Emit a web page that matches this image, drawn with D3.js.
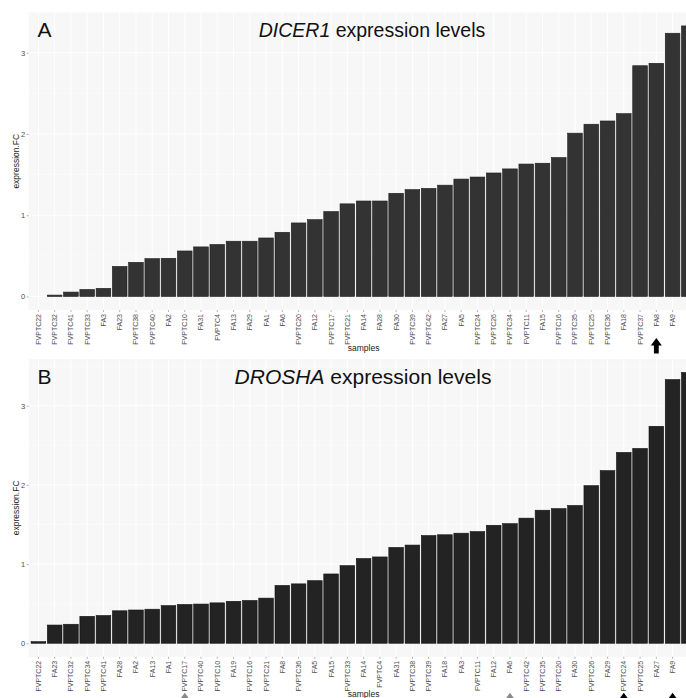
<!DOCTYPE html>
<html>
<head>
<meta charset="utf-8">
<script src="https://cdn.jsdelivr.net/npm/d3@7"></script>
<style>
  body { margin: 0; background: #fff; }
  svg { display: block; font-family: "Liberation Sans", Arial, sans-serif; }
</style>
</head>
<body>
<svg id="chart" width="686" height="698"></svg>
<script>
// DICER1 panel (A), samples in plotted order
const samplesA = ['FVPTC22', 'FVPTC32', 'FVPTC41', 'FVPTC33', 'FA3', 'FA23', 'FVPTC38', 'FVPTC40', 'FA2', 'FVPTC10',
  'FA31', 'FVPTC4', 'FA13', 'FA29', 'FA1', 'FA6', 'FVPTC20', 'FA12', 'FVPTC17', 'FVPTC21',
  'FA14', 'FA28', 'FA30', 'FVPTC39', 'FVPTC42', 'FA27', 'FA5', 'FVPTC24', 'FVPTC26', 'FVPTC34',
  'FVPTC11', 'FA15', 'FVPTC16', 'FVPTC35', 'FVPTC25', 'FVPTC36', 'FA18', 'FVPTC37', 'FA8', 'FA9', 'FA19'];
const valuesA = [0, 0.017, 0.054, 0.086, 0.10, 0.37, 0.42, 0.465, 0.47, 0.56,
  0.61, 0.64, 0.68, 0.68, 0.72, 0.79, 0.905, 0.945, 1.045, 1.14,
  1.175, 1.175, 1.27, 1.315, 1.33, 1.37, 1.445, 1.47, 1.52, 1.57,
  1.63, 1.64, 1.71, 2.01, 2.12, 2.16, 2.25, 2.84, 2.87, 3.24, 3.33];

// DROSHA panel (B)
const samplesB = ['FVPTC22', 'FA23', 'FVPTC32', 'FVPTC34', 'FVPTC41', 'FA28', 'FA2', 'FA13', 'FA1', 'FVPTC17',
  'FVPTC40', 'FVPTC10', 'FA19', 'FVPTC16', 'FVPTC21', 'FA8', 'FVPTC36', 'FA5', 'FA15', 'FVPTC33',
  'FA14', 'FVPTC4', 'FA31', 'FVPTC38', 'FVPTC39', 'FA18', 'FA3', 'FVPTC11', 'FA12', 'FA6',
  'FVPTC42', 'FVPTC35', 'FVPTC20', 'FA30', 'FVPTC26', 'FA29', 'FVPTC24', 'FVPTC25', 'FA27', 'FA9', 'FVPTC37'];
const valuesB = [0.02, 0.23, 0.24, 0.34, 0.35, 0.41, 0.42, 0.43, 0.475, 0.49,
  0.495, 0.51, 0.53, 0.54, 0.57, 0.73, 0.75, 0.79, 0.875, 0.98,
  1.07, 1.09, 1.21, 1.24, 1.36, 1.37, 1.39, 1.41, 1.49, 1.51,
  1.58, 1.68, 1.70, 1.74, 1.99, 2.18, 2.41, 2.46, 2.74, 3.33, 3.42];

const yTicks = [0, 1, 2, 3];

// arrow markers under sample labels
const blackArrowsA = ['FA8'];
const blackArrowsB = ['FVPTC24', 'FA9'];
const grayArrowsB = ['FVPTC17', 'FA6'];

const svg = d3.select('#chart');
const svgWidth = +svg.attr('width');
const plotLeft = 28.65, plotRight = 698.6;   // panel runs past the cropped right edge

function drawPanel(cfg) {
  const g = svg.append('g');

  const x = d3.scaleBand()
    .domain(cfg.samples)
    .range([plotLeft, plotRight])
    .paddingInner(0.1)
    .paddingOuter(0.15);

  const maxV = d3.max(cfg.values);
  const y = d3.scaleLinear()
    .domain([-0.05 * maxV, maxV * 1.05])
    .range([cfg.bottom, cfg.top]);

  // panel background + faint grid
  g.append('rect')
    .attr('x', plotLeft).attr('y', cfg.top)
    .attr('width', plotRight - plotLeft).attr('height', cfg.bottom - cfg.top)
    .attr('fill', '#f7f7f7');

  g.selectAll('.hgrid')
    .data(d3.range(0, maxV * 1.05, 0.5))
    .enter().append('line')
    .attr('x1', plotLeft).attr('x2', plotRight)
    .attr('y1', d => y(d)).attr('y2', d => y(d))
    .attr('stroke', '#fff').attr('stroke-width', d => d % 1 === 0 ? 1 : 0.5);

  g.selectAll('.vgrid')
    .data(cfg.samples)
    .enter().append('line')
    .attr('x1', d => x(d) + x.bandwidth() / 2).attr('x2', d => x(d) + x.bandwidth() / 2)
    .attr('y1', cfg.top).attr('y2', cfg.bottom)
    .attr('stroke', '#fff').attr('stroke-width', 1);

  const data = cfg.samples.map((s, i) => ({ sample: s, value: cfg.values[i] }));

  g.selectAll('.bar')
    .data(data.filter(d => d.value > 0))
    .enter().append('rect')
    .attr('x', d => x(d.sample))
    .attr('y', d => y(d.value))
    .attr('width', x.bandwidth())
    .attr('height', d => y(0) - y(d.value))
    .attr('fill', cfg.barColor)
    .attr('stroke', cfg.barStroke)
    .attr('stroke-width', 0.6);

  // x axis (labels falling past the cropped edge are left out)
  const visible = cfg.samples.filter(s => x(s) + x.bandwidth() / 2 + 3 < svgWidth);
  const xAxis = g.append('g')
    .attr('transform', `translate(0,${cfg.bottom})`)
    .call(d3.axisBottom(x).tickValues(visible).tickSize(2).tickPadding(0));
  xAxis.select('.domain').remove();
  xAxis.selectAll('line').attr('stroke', '#666').attr('stroke-width', 0.5);
  xAxis.selectAll('text')
    .attr('transform', 'rotate(-90)')
    .attr('x', -4)
    .attr('y', 0)
    .attr('dy', '0.35em')
    .style('text-anchor', 'end')
    .style('font-size', '7px')
    .style('font-family', '"Liberation Sans", Arial, sans-serif')
    .attr('fill', '#4d4d4d');

  // y axis
  const yAxis = g.append('g')
    .attr('transform', `translate(${plotLeft},0)`)
    .call(d3.axisLeft(y).tickValues(yTicks).tickFormat(d3.format('d')).tickSize(2).tickPadding(1.5));
  yAxis.select('.domain').remove();
  yAxis.selectAll('line').attr('stroke', '#666').attr('stroke-width', 0.5);
  yAxis.selectAll('text')
    .style('font-size', '7.5px')
    .style('font-family', '"Liberation Sans", Arial, sans-serif')
    .attr('fill', '#4d4d4d');

  // axis titles
  g.append('text')
    .attr('transform', `translate(19,${(cfg.top + cfg.bottom) / 2}) rotate(-90)`)
    .attr('text-anchor', 'middle')
    .style('font-size', '8.5px')
    .attr('fill', '#222')
    .text('expression.FC');

  g.append('text')
    .attr('x', (plotLeft + plotRight) / 2)
    .attr('y', cfg.bottom + 40.5)
    .attr('text-anchor', 'middle')
    .style('font-size', '8.5px')
    .attr('fill', '#222')
    .text('samples');

  // panel letter and title
  g.append('text')
    .attr('x', 37.5)
    .attr('y', cfg.top + cfg.titleDy)
    .style('font-size', '21px')
    .attr('fill', '#111')
    .text(cfg.letter);

  const title = g.append('text')
    .attr('x', cfg.titleX)
    .attr('y', cfg.top + cfg.titleDy)
    .attr('text-anchor', 'middle')
    .style('font-size', cfg.titleSize)
    .attr('fill', '#111');
  title.append('tspan').style('font-style', 'italic').text(cfg.gene);
  title.append('tspan').text(' expression levels');

  // arrows under labels
  const arrowPath = 'M0,0 L5.5,7.5 L2.4,7.5 L2.4,15.5 L-2.4,15.5 L-2.4,7.5 L-5.5,7.5 Z';
  const arrows = cfg.blackArrows.map(s => ({ sample: s, color: '#000' }))
    .concat(cfg.grayArrows.map(s => ({ sample: s, color: '#8a8a8a' })));
  g.selectAll('.arrow')
    .data(arrows)
    .enter().append('path')
    .attr('d', arrowPath)
    .attr('transform', d => `translate(${x(d.sample) + x.bandwidth() / 2},${cfg.bottom + cfg.arrowDy})`)
    .attr('fill', d => d.color);
}

drawPanel({
  samples: samplesA, values: valuesA,
  top: 12.4, bottom: 310,
  letter: 'A', gene: 'DICER1',
  titleX: 372, titleDy: 25, titleSize: '19.5px',
  barColor: '#333333', barStroke: '#1c1c1c',
  blackArrows: blackArrowsA, grayArrows: [],
  arrowDy: 28
});

drawPanel({
  samples: samplesB, values: valuesB,
  top: 358.9, bottom: 656.8,
  letter: 'B', gene: 'DROSHA',
  titleX: 363, titleDy: 25, titleSize: '21px',
  barColor: '#232323', barStroke: '#111111',
  blackArrows: blackArrowsB, grayArrows: grayArrowsB,
  arrowDy: 36
});
</script>
</body>
</html>
